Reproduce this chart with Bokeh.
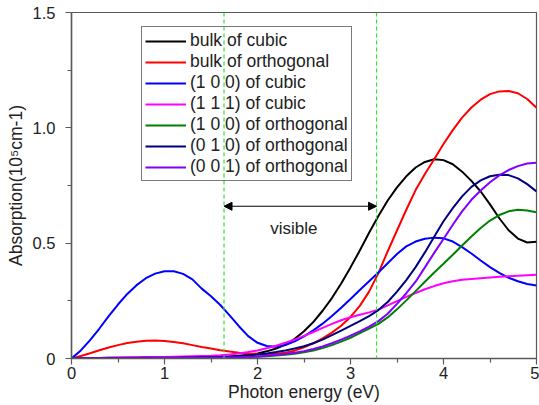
from bokeh.plotting import figure
from bokeh.models import FixedTicker, Span, Arrow, NormalHead, Label, Legend, LegendItem
from bokeh.embed import file_html
from bokeh.resources import INLINE

# Photon energy grid (eV)
energy = [0.0, 0.1, 0.2, 0.3, 0.4, 0.5, 0.6, 0.7, 0.8, 0.9,
          1.0, 1.1, 1.2, 1.3, 1.4, 1.5, 1.6, 1.7, 1.8, 1.9,
          2.0, 2.1, 2.2, 2.3, 2.4, 2.5, 2.6, 2.7, 2.8, 2.9,
          3.0, 3.1, 3.2, 3.3, 3.4, 3.5, 3.6, 3.7, 3.8, 3.9,
          4.0, 4.1, 4.2, 4.3, 4.4, 4.5, 4.6, 4.7, 4.8, 4.9, 5.0]

# Absorption (10^5 cm-1)
bulk_cubic = [0.000, 0.001, 0.002, 0.002, 0.003, 0.003, 0.003, 0.004, 0.004, 0.004,
              0.004, 0.004, 0.004, 0.005, 0.005, 0.006, 0.007, 0.009, 0.012, 0.016,
              0.022, 0.031, 0.043, 0.060, 0.085, 0.118, 0.158, 0.207, 0.262, 0.325,
              0.395, 0.468, 0.545, 0.618, 0.685, 0.742, 0.790, 0.828, 0.852, 0.864,
              0.860, 0.842, 0.810, 0.770, 0.724, 0.668, 0.608, 0.556, 0.520, 0.503, 0.506]

bulk_orthogonal = [0.000, 0.011, 0.023, 0.036, 0.048, 0.058, 0.067, 0.073, 0.077, 0.078,
                   0.076, 0.072, 0.066, 0.058, 0.050, 0.043, 0.036, 0.030, 0.025, 0.022,
                   0.020, 0.020, 0.021, 0.025, 0.034, 0.048, 0.066, 0.087, 0.112, 0.142,
                   0.180, 0.228, 0.290, 0.370, 0.465, 0.555, 0.645, 0.730, 0.800, 0.864,
                   0.930, 0.990, 1.044, 1.088, 1.122, 1.146, 1.158, 1.160, 1.150, 1.125, 1.087]

cubic_100 = [0.000, 0.035, 0.080, 0.130, 0.184, 0.234, 0.280, 0.318, 0.348, 0.368,
             0.378, 0.378, 0.367, 0.343, 0.303, 0.270, 0.232, 0.187, 0.140, 0.097,
             0.068, 0.054, 0.051, 0.058, 0.074, 0.096, 0.122, 0.151, 0.184, 0.220,
             0.258, 0.297, 0.335, 0.373, 0.413, 0.453, 0.486, 0.507, 0.519, 0.524,
             0.521, 0.507, 0.483, 0.455, 0.425, 0.396, 0.371, 0.350, 0.335, 0.323, 0.316]

cubic_111 = [0.000, 0.001, 0.002, 0.002, 0.003, 0.004, 0.005, 0.005, 0.006, 0.006,
             0.007, 0.008, 0.009, 0.010, 0.011, 0.012, 0.014, 0.017, 0.022, 0.028,
             0.035, 0.044, 0.055, 0.068, 0.082, 0.098, 0.115, 0.133, 0.150, 0.166,
             0.179, 0.190, 0.200, 0.212, 0.230, 0.249, 0.267, 0.284, 0.300, 0.314,
             0.326, 0.335, 0.341, 0.345, 0.348, 0.351, 0.354, 0.357, 0.359, 0.361, 0.363]

orth_100 = [0.000, 0.000, 0.000, 0.000, 0.001, 0.001, 0.001, 0.001, 0.001, 0.001,
            0.001, 0.001, 0.002, 0.002, 0.002, 0.003, 0.003, 0.004, 0.005, 0.006,
            0.008, 0.010, 0.013, 0.016, 0.021, 0.027, 0.035, 0.045, 0.058, 0.073,
            0.090, 0.110, 0.130, 0.150, 0.178, 0.213, 0.252, 0.292, 0.333, 0.373,
            0.411, 0.450, 0.490, 0.529, 0.566, 0.598, 0.622, 0.638, 0.645, 0.642, 0.634]

orth_010 = [0.000, 0.001, 0.001, 0.001, 0.002, 0.002, 0.002, 0.002, 0.003, 0.003,
            0.003, 0.003, 0.004, 0.004, 0.005, 0.005, 0.006, 0.008, 0.010, 0.013,
            0.017, 0.022, 0.028, 0.035, 0.043, 0.053, 0.066, 0.082, 0.101, 0.121,
            0.141, 0.162, 0.184, 0.210, 0.245, 0.290, 0.340, 0.396, 0.460, 0.528,
            0.595, 0.652, 0.703, 0.744, 0.772, 0.790, 0.797, 0.795, 0.781, 0.756, 0.724]

orth_001 = [0.000, 0.000, 0.001, 0.001, 0.001, 0.001, 0.001, 0.001, 0.001, 0.002,
            0.002, 0.002, 0.002, 0.002, 0.003, 0.003, 0.004, 0.004, 0.005, 0.007,
            0.009, 0.012, 0.016, 0.020, 0.025, 0.032, 0.041, 0.052, 0.066, 0.082,
            0.099, 0.118, 0.138, 0.162, 0.194, 0.237, 0.283, 0.333, 0.395, 0.458,
            0.518, 0.580, 0.638, 0.688, 0.728, 0.764, 0.794, 0.817, 0.834, 0.845, 0.849]

series_labels = ["bulk of cubic", "bulk of orthogonal", "(1 0 0) of cubic", "(1 1 1) of cubic",
                 "(1 0 0) of orthogonal", "(0 1 0) of orthogonal", "(0 0 1) of orthogonal"]
series_values = [bulk_cubic, bulk_orthogonal, cubic_100, cubic_111, orth_100, orth_010, orth_001]
series_colors = ["#000000", "#ff0000", "#0000ff", "#ff00ff", "#008000", "#000080", "#8000ff"]

# Visible-light window (eV) and its annotation
visible_edges = [1.64, 3.28]
visible_arrow_y = 0.66
visible_text = "visible"
visible_text_pos = (2.39, 0.565)

x_ticks = [0, 1, 2, 3, 4, 5]
x_minor = [0.5, 1.5, 2.5, 3.5, 4.5]
y_ticks = [0, 0.5, 1.0, 1.5]
y_minor = [0.25, 0.75, 1.25]
y_tick_labels = {0: "0", 0.5: "0.5", 1: "1.0", 1.5: "1.5"}

FONT = "Liberation Sans"
AXIS_COLOR = "#5a5a5a"

p = figure(width=539, height=405, output_backend="svg", toolbar_location=None,
           x_range=(0, 5), y_range=(0, 1.5),
           min_border_left=71, min_border_right=3, min_border_top=12, min_border_bottom=47)

p.xgrid.visible = False
p.ygrid.visible = False
p.outline_line_color = AXIS_COLOR
p.outline_line_width = 1.2
p.background_fill_color = "white"
p.border_fill_color = "white"

for ax, ticks, minor in ((p.xaxis, x_ticks, x_minor), (p.yaxis, y_ticks, y_minor)):
    ax.ticker = FixedTicker(ticks=ticks, minor_ticks=minor)
    ax.axis_line_color = AXIS_COLOR
    ax.axis_line_width = 1.5
    ax.major_tick_line_color = AXIS_COLOR
    ax.minor_tick_line_color = AXIS_COLOR
    ax.major_tick_line_width = 1.2
    ax.minor_tick_line_width = 1.2
    ax.major_tick_in = 0
    ax.major_tick_out = 6
    ax.minor_tick_in = 0
    ax.minor_tick_out = 4
    ax.major_label_text_font = FONT
    ax.major_label_text_font_size = "16.5px"
    ax.major_label_text_color = "#222222"
    ax.axis_label_text_font = FONT
    ax.axis_label_text_font_size = "17.5px"
    ax.axis_label_text_font_style = "normal"
    ax.axis_label_text_color = "#222222"

p.xaxis.axis_label = "Photon energy (eV)"
p.xaxis.major_label_standoff = 2
p.xaxis.axis_label_standoff = 0
p.yaxis.axis_label = "Absorption(10\u2075cm-1)"
p.yaxis.major_label_overrides = y_tick_labels
p.yaxis.major_label_standoff = 10
p.yaxis.axis_label_standoff = 4

# Visible window edges
for edge in visible_edges:
    p.add_layout(Span(location=edge, dimension="height", line_color="#33e033",
                      line_width=1.2, line_dash="4 3"))

# Double-headed arrow across the visible window
p.add_layout(Arrow(start=NormalHead(size=8, fill_color="black", line_color="black"),
                   end=NormalHead(size=8, fill_color="black", line_color="black"),
                   x_start=visible_edges[0], x_end=visible_edges[1],
                   y_start=visible_arrow_y, y_end=visible_arrow_y,
                   line_color="black", line_width=1.2))
p.add_layout(Label(x=visible_text_pos[0], y=visible_text_pos[1], text=visible_text,
                   text_align="center", text_baseline="alphabetic",
                   text_font=FONT, text_font_size="17px", text_color="#222222"))

items = []
for label, values, color in zip(series_labels, series_values, series_colors):
    r = p.line(energy, values, line_color=color, line_width=2)
    items.append(LegendItem(label=label, renderers=[r]))

legend = Legend(items=items, location=(70, 177),
                label_text_font=FONT, label_text_font_size="17.5px", label_text_color="#222222",
                glyph_width=41, glyph_height=20, label_height=20, label_standoff=4,
                spacing=0, padding=3, margin=0,
                border_line_color="#7a7a7a", border_line_width=1.5, border_line_alpha=1.0,
                background_fill_color="white", background_fill_alpha=0.0)
p.add_layout(legend)

open("out.html", "w").write(file_html(p, INLINE))
